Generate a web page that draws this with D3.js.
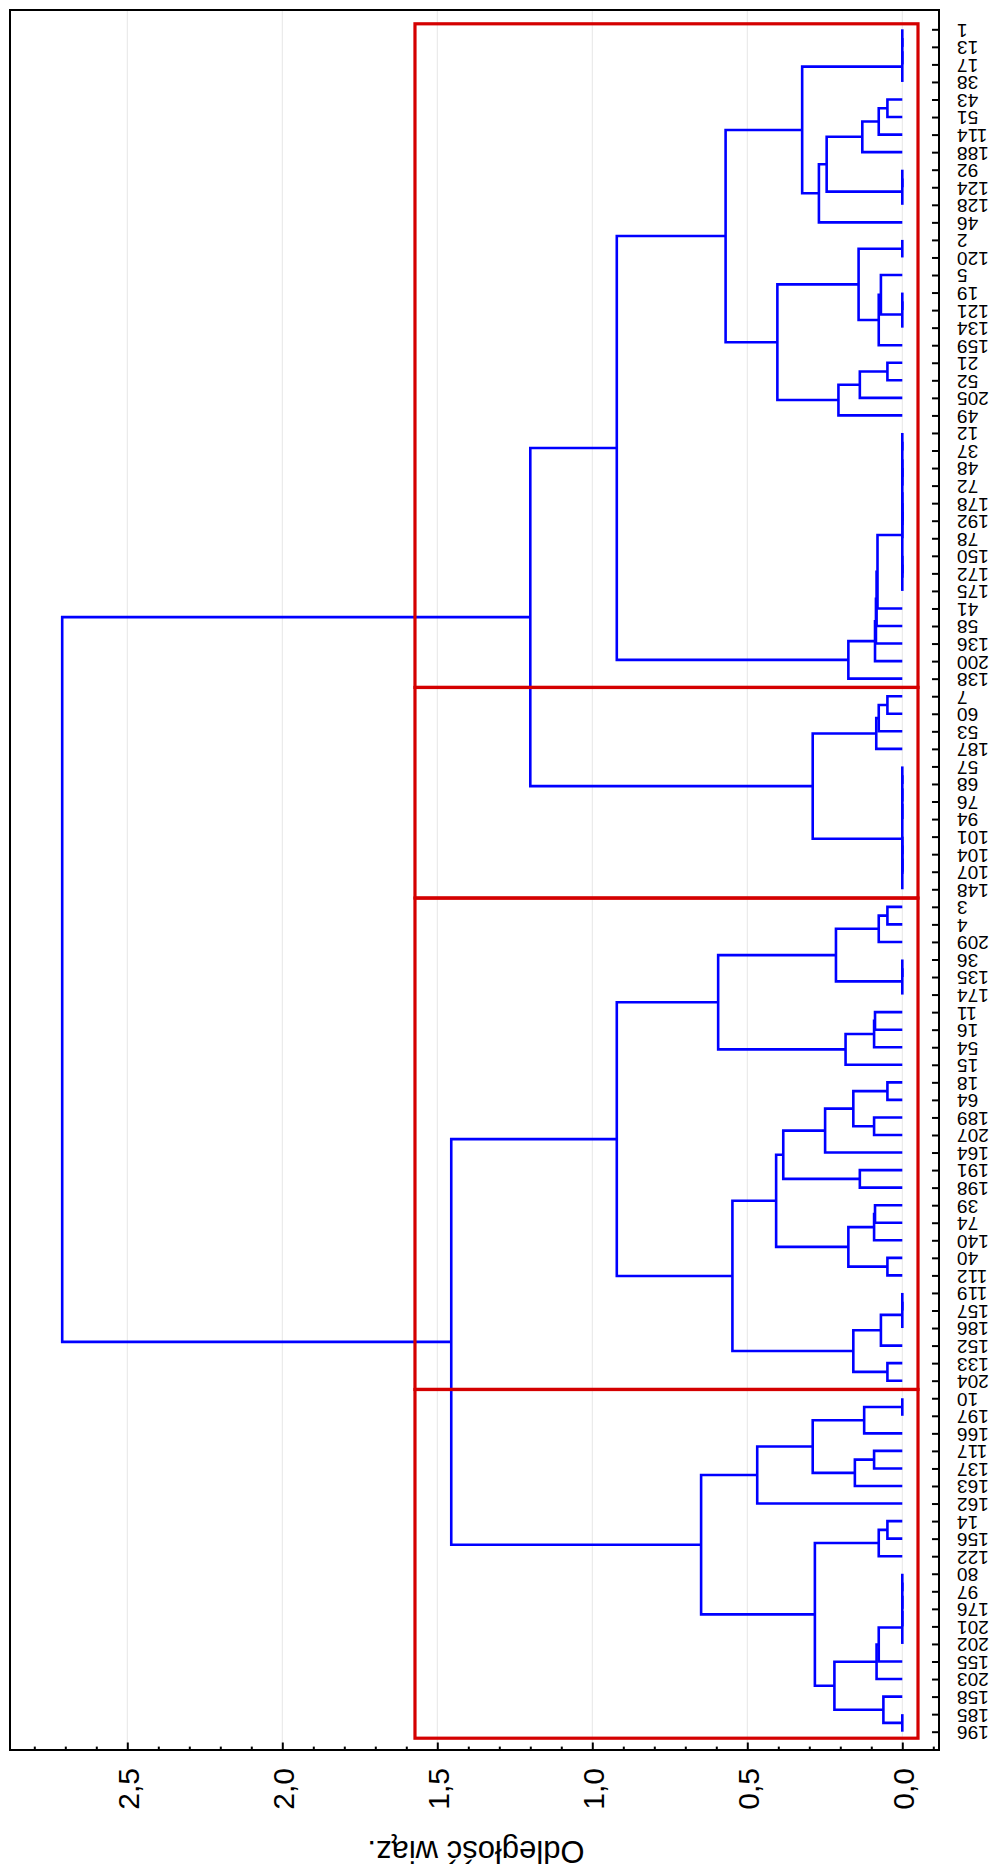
<!DOCTYPE html>
<html>
<head>
<meta charset="utf-8">
<script src="https://cdn.jsdelivr.net/npm/d3@7"></script>
<style>
  body { margin: 0; background: #fff; }
  svg { display: block; }
  text { font-family: "Liberation Sans", Arial, sans-serif; fill: #000; }
</style>
</head>
<body>
<svg id="chart"></svg>
<script>
// leaf labels, top to bottom
const leafLabels = [1, 13, 17, 38, 43, 51, 114, 188, 92, 124, 128, 46, 2, 120, 5, 19, 121, 134, 159, 21,
  52, 205, 49, 12, 37, 48, 72, 178, 192, 78, 150, 172, 175, 41, 58, 136, 200, 138, 7, 60,
  53, 187, 57, 68, 76, 94, 101, 104, 107, 148, 3, 4, 209, 36, 135, 174, 11, 16, 54, 15,
  18, 64, 189, 207, 164, 191, 198, 39, 74, 140, 40, 112, 119, 157, 186, 152, 133, 204, 10, 197,
  166, 117, 137, 163, 162, 14, 156, 122, 80, 97, 176, 201, 202, 155, 203, 158, 185, 196];

// subtrees as [linkage distance, left, right]; a bare number is a leaf
const clA1 = [0.323, [0, [0, [0, 1, 13], 17], 38],
  [0.269, [0.244, [0.129, [0.076, [0.048, 43, 51], 114], 188], [0, [0, 92, 124], 128]], 46]];
const clA2 = [0.403, [0.141, [0, 2, 120], [0.076, [0.069, 5, [0, [0, 19, 121], 134]], 159]],
  [0.206, [0.137, [0.048, 21, 52], 205], 49]];
const clA3 = [0.174, [0.088, [0.085, [0.083, [0.080,
  [0, [0, [0, [0, 12, 37], [0, 48, 72]], [0, [0, 178, 192], 78]], [0, [0, 150, 172], 175]],
  41], 58], 136], 200], 138];
const clA4 = [0.289, [0.084, [0.076, [0.048, 7, 60], 53], 187],
  [0, [0, [0, [0, 57, 68], 76], 94], [0, [0, [0, 101, 104], 107], 148]]];
const clB1 = [0.594, [0.214, [0.076, [0.048, 3, 4], 209], [0, [0, 36, 135], 174]],
  [0.183, [0.091, [0.088, 11, 16], 54], 15]];
const clB2 = [0.548,
  [0.407, [0.384, [0.249, [0.158, [0.048, 18, 64], [0.091, 189, 207]], 164], [0.137, 191, 198]],
    [0.174, [0.091, [0.088, 39, 74], 140], [0.048, 40, 112]]],
  [0.158, [0.069, [0, [0, 119, 157], 186], 152], [0.048, 133, 204]]];
const clB3 = [0.468, [0.289, [0.123, [0, 10, 197], 166], [0.153, [0.091, 117, 137], 163]], 162];
const clB4 = [0.282, [0.076, [0.048, 14, 156], 122],
  [0.219, [0.083, [0.076, [0, [0, [0, [0, 80, 97], 176], 201], 202], 155], 203],
    [0.061, 158, [0, 185, 196]]]];

const tree = [2.71,
  [1.20, [0.921, [0.57, clA1, clA2], clA3], clA4],
  [1.455, [0.921, clB1, clB2], [0.649, clB3, clB4]]];

// value axis
const majorTicks = [0, 0.5, 1.0, 1.5, 2.0, 2.5];
const majorLabels = ["0,0", "0,5", "1,0", "1,5", "2,0", "2,5"];
const minorTicks = [-0.1, 0.1, 0.2, 0.3, 0.4, 0.6, 0.7, 0.8, 0.9, 1.1, 1.2, 1.3, 1.4,
  1.6, 1.7, 1.8, 1.9, 2.1, 2.2, 2.3, 2.4, 2.6, 2.7, 2.8];
const axisTitle = "Odległość wiąz.";

// red boxes: cut distance and first/last leaf of each group
const cutDistance = 1.572;
const groups = [[1, 138], [7, 148], [3, 204], [10, 196]];

const width = 998, height = 1873;
const plot = { left: 10, top: 10, right: 939, bottom: 1750 };

const svg = d3.select("#chart").attr("width", width).attr("height", height);

const x = d3.scaleLinear().domain([0, 2.5]).range([902.3, 127.3]);
const y = d3.scalePoint().domain(leafLabels).range([29.3, 1731.7]);

// grid
svg.append("g").selectAll("line")
  .data(majorTicks)
  .enter().append("line")
  .attr("x1", d => x(d)).attr("x2", d => x(d))
  .attr("y1", plot.top).attr("y2", plot.bottom)
  .attr("stroke", "#e6e6e6").attr("stroke-width", 1);

// dendrogram
function toNode(d) {
  return Array.isArray(d)
    ? { h: d[0], children: [toNode(d[1]), toNode(d[2])] }
    : { h: 0, label: d };
}
let root = d3.hierarchy(toNode(tree));
root.eachAfter(n => {
  n.py = n.children ? (n.children[0].py + n.children[1].py) / 2 : y(n.data.label);
});

svg.append("g").selectAll("path")
  .data(root.descendants().filter(n => n.children))
  .enter().append("path")
  .attr("d", n => {
    let a = n.children[0], b = n.children[1];
    return "M" + x(a.data.h) + "," + a.py + "H" + x(n.data.h) + "V" + b.py + "H" + x(b.data.h);
  })
  .attr("fill", "none")
  .attr("stroke", "#0000ff")
  .attr("stroke-width", 2.6)
  .attr("stroke-linejoin", "miter");

// red group boxes
svg.append("g").selectAll("rect")
  .data(groups)
  .enter().append("rect")
  .attr("x", x(cutDistance))
  .attr("width", 918 - x(cutDistance))
  .attr("y", (g, i) => i === 0 ? y(g[0]) - 5.5 : (y(groups[i - 1][1]) + y(g[0])) / 2)
  .attr("height", (g, i) => {
    let top = i === 0 ? y(g[0]) - 5.5 : (y(groups[i - 1][1]) + y(g[0])) / 2;
    let bot = i === groups.length - 1 ? y(g[1]) + 6.5 : (y(g[1]) + y(groups[i + 1][0])) / 2;
    return bot - top;
  })
  .attr("fill", "none")
  .attr("stroke", "#d40000")
  .attr("stroke-width", 3.2);

// frame
svg.append("rect")
  .attr("x", plot.left).attr("y", plot.top)
  .attr("width", plot.right - plot.left).attr("height", plot.bottom - plot.top)
  .attr("fill", "none").attr("stroke", "#000").attr("stroke-width", 2);

// value axis (bottom), ticks pointing into the plot
let minorAxis = svg.append("g")
  .attr("transform", "translate(0," + plot.bottom + ")")
  .call(d3.axisBottom(x).tickValues(minorTicks).tickSize(-3.4).tickSizeOuter(0).tickFormat(""));
minorAxis.select(".domain").remove();

let majorAxis = svg.append("g")
  .attr("transform", "translate(0," + plot.bottom + ")")
  .call(d3.axisBottom(x).tickValues(majorTicks).tickSize(-7.5).tickSizeOuter(0)
    .tickFormat((d, i) => majorLabels[i]));
majorAxis.select(".domain").remove();
svg.selectAll(".tick line").attr("stroke", "#000").attr("stroke-width", 2);
majorAxis.selectAll("text")
  .attr("y", null).attr("dy", null)
  .attr("text-anchor", "end")
  .attr("transform", "translate(10.7,18) rotate(-90)")
  .style("font-size", "30px");

// leaf axis (right), ticks pointing into the plot
let leafAxis = svg.append("g")
  .attr("transform", "translate(" + plot.right + ",0)")
  .call(d3.axisRight(y).tickSize(-7).tickSizeOuter(0));
leafAxis.select(".domain").remove();
leafAxis.selectAll(".tick line").attr("stroke", "#000").attr("stroke-width", 2);
leafAxis.selectAll("text")
  .attr("x", null)
  .attr("text-anchor", "end")
  .attr("transform", "translate(18,0) rotate(180)")
  .style("font-size", "19px");

svg.selectAll(".tick text").attr("fill", "#000");
svg.selectAll(".tick").attr("font-family", null);

// axis title
svg.append("text")
  .attr("transform", "translate(476,1841) rotate(180)")
  .attr("text-anchor", "middle")
  .style("font-size", "31px")
  .text(axisTitle);
</script>
</body>
</html>
